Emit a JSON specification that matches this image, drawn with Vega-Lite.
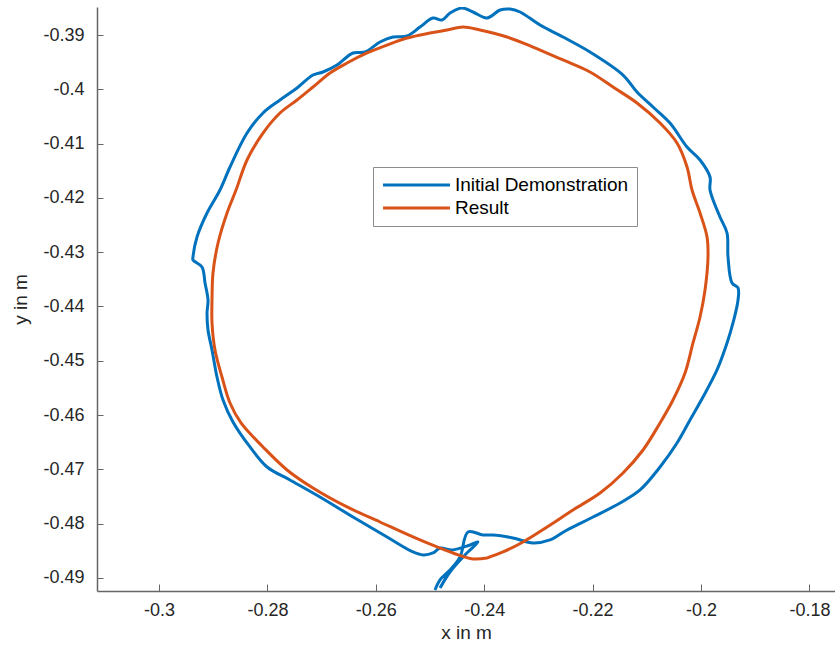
{
  "$schema": "https://vega.github.io/schema/vega-lite/v6.json",
  "width": 738,
  "height": 584,
  "autosize": {"type": "none"},
  "padding": {"left": 97, "top": 7, "right": 0, "bottom": 62},
  "background": "white",
  "config": {"view": {"stroke": null}, "font": "Liberation Sans"},
  "data": {
    "values": [
      {"series": "Initial Demonstration", "i": 1, "x": -0.24908, "y": -0.49221},
      {"series": "Initial Demonstration", "i": 2, "x": -0.24815, "y": -0.49037},
      {"series": "Initial Demonstration", "i": 3, "x": -0.24631, "y": -0.48853},
      {"series": "Initial Demonstration", "i": 4, "x": -0.24446, "y": -0.48613},
      {"series": "Initial Demonstration", "i": 5, "x": -0.24299, "y": -0.48153},
      {"series": "Initial Demonstration", "i": 6, "x": -0.24022, "y": -0.48208},
      {"series": "Initial Demonstration", "i": 7, "x": -0.23838, "y": -0.48208},
      {"series": "Initial Demonstration", "i": 8, "x": -0.23469, "y": -0.48263},
      {"series": "Initial Demonstration", "i": 9, "x": -0.231, "y": -0.48355},
      {"series": "Initial Demonstration", "i": 10, "x": -0.22786, "y": -0.483},
      {"series": "Initial Demonstration", "i": 11, "x": -0.22472, "y": -0.48116},
      {"series": "Initial Demonstration", "i": 12, "x": -0.21993, "y": -0.47877},
      {"series": "Initial Demonstration", "i": 13, "x": -0.21494, "y": -0.47619},
      {"series": "Initial Demonstration", "i": 14, "x": -0.21125, "y": -0.47379},
      {"series": "Initial Demonstration", "i": 15, "x": -0.20756, "y": -0.46956},
      {"series": "Initial Demonstration", "i": 16, "x": -0.20443, "y": -0.46514},
      {"series": "Initial Demonstration", "i": 17, "x": -0.20203, "y": -0.4609},
      {"series": "Initial Demonstration", "i": 18, "x": -0.19963, "y": -0.45667},
      {"series": "Initial Demonstration", "i": 19, "x": -0.19705, "y": -0.45169},
      {"series": "Initial Demonstration", "i": 20, "x": -0.1952, "y": -0.44672},
      {"series": "Initial Demonstration", "i": 21, "x": -0.1941, "y": -0.44304},
      {"series": "Initial Demonstration", "i": 22, "x": -0.19317, "y": -0.4388},
      {"series": "Initial Demonstration", "i": 23, "x": -0.19317, "y": -0.43659},
      {"series": "Initial Demonstration", "i": 24, "x": -0.19428, "y": -0.43567},
      {"series": "Initial Demonstration", "i": 25, "x": -0.19502, "y": -0.43088},
      {"series": "Initial Demonstration", "i": 26, "x": -0.1952, "y": -0.42646},
      {"series": "Initial Demonstration", "i": 27, "x": -0.1965, "y": -0.42352},
      {"series": "Initial Demonstration", "i": 28, "x": -0.19834, "y": -0.41855},
      {"series": "Initial Demonstration", "i": 29, "x": -0.19834, "y": -0.41615},
      {"series": "Initial Demonstration", "i": 30, "x": -0.20018, "y": -0.41302},
      {"series": "Initial Demonstration", "i": 31, "x": -0.20258, "y": -0.41063},
      {"series": "Initial Demonstration", "i": 32, "x": -0.20572, "y": -0.40621},
      {"series": "Initial Demonstration", "i": 33, "x": -0.20886, "y": -0.40326},
      {"series": "Initial Demonstration", "i": 34, "x": -0.21181, "y": -0.4005},
      {"series": "Initial Demonstration", "i": 35, "x": -0.21439, "y": -0.39737},
      {"series": "Initial Demonstration", "i": 36, "x": -0.22048, "y": -0.39313},
      {"series": "Initial Demonstration", "i": 37, "x": -0.22546, "y": -0.39037},
      {"series": "Initial Demonstration", "i": 38, "x": -0.2297, "y": -0.38816},
      {"series": "Initial Demonstration", "i": 39, "x": -0.23339, "y": -0.38576},
      {"series": "Initial Demonstration", "i": 40, "x": -0.23524, "y": -0.38521},
      {"series": "Initial Demonstration", "i": 41, "x": -0.23708, "y": -0.3854},
      {"series": "Initial Demonstration", "i": 42, "x": -0.23948, "y": -0.38687},
      {"series": "Initial Demonstration", "i": 43, "x": -0.24207, "y": -0.38576},
      {"series": "Initial Demonstration", "i": 44, "x": -0.2441, "y": -0.38503},
      {"series": "Initial Demonstration", "i": 45, "x": -0.24631, "y": -0.38595},
      {"series": "Initial Demonstration", "i": 46, "x": -0.24779, "y": -0.38724},
      {"series": "Initial Demonstration", "i": 47, "x": -0.24945, "y": -0.38687},
      {"series": "Initial Demonstration", "i": 48, "x": -0.25185, "y": -0.38853},
      {"series": "Initial Demonstration", "i": 49, "x": -0.25424, "y": -0.39018},
      {"series": "Initial Demonstration", "i": 50, "x": -0.25683, "y": -0.39037},
      {"series": "Initial Demonstration", "i": 51, "x": -0.25923, "y": -0.39129},
      {"series": "Initial Demonstration", "i": 52, "x": -0.26199, "y": -0.39313},
      {"series": "Initial Demonstration", "i": 53, "x": -0.26421, "y": -0.39331},
      {"series": "Initial Demonstration", "i": 54, "x": -0.26716, "y": -0.39552},
      {"series": "Initial Demonstration", "i": 55, "x": -0.26974, "y": -0.39681},
      {"series": "Initial Demonstration", "i": 56, "x": -0.27159, "y": -0.39737},
      {"series": "Initial Demonstration", "i": 57, "x": -0.27454, "y": -0.39976},
      {"series": "Initial Demonstration", "i": 58, "x": -0.27768, "y": -0.40197},
      {"series": "Initial Demonstration", "i": 59, "x": -0.28081, "y": -0.40436},
      {"series": "Initial Demonstration", "i": 60, "x": -0.28376, "y": -0.40805},
      {"series": "Initial Demonstration", "i": 61, "x": -0.2869, "y": -0.41431},
      {"series": "Initial Demonstration", "i": 62, "x": -0.28875, "y": -0.41855},
      {"series": "Initial Demonstration", "i": 63, "x": -0.29114, "y": -0.42278},
      {"series": "Initial Demonstration", "i": 64, "x": -0.29299, "y": -0.4272},
      {"series": "Initial Demonstration", "i": 65, "x": -0.29373, "y": -0.43088},
      {"series": "Initial Demonstration", "i": 66, "x": -0.29373, "y": -0.43144},
      {"series": "Initial Demonstration", "i": 67, "x": -0.29207, "y": -0.43273},
      {"series": "Initial Demonstration", "i": 68, "x": -0.29151, "y": -0.43567},
      {"series": "Initial Demonstration", "i": 69, "x": -0.29096, "y": -0.4388},
      {"series": "Initial Demonstration", "i": 70, "x": -0.29114, "y": -0.4412},
      {"series": "Initial Demonstration", "i": 71, "x": -0.29096, "y": -0.44433},
      {"series": "Initial Demonstration", "i": 72, "x": -0.29022, "y": -0.44801},
      {"series": "Initial Demonstration", "i": 73, "x": -0.2893, "y": -0.45298},
      {"series": "Initial Demonstration", "i": 74, "x": -0.28819, "y": -0.45722},
      {"series": "Initial Demonstration", "i": 75, "x": -0.28635, "y": -0.46127},
      {"series": "Initial Demonstration", "i": 76, "x": -0.28321, "y": -0.46587},
      {"series": "Initial Demonstration", "i": 77, "x": -0.28007, "y": -0.46956},
      {"series": "Initial Demonstration", "i": 78, "x": -0.27583, "y": -0.47195},
      {"series": "Initial Demonstration", "i": 79, "x": -0.2703, "y": -0.47508},
      {"series": "Initial Demonstration", "i": 80, "x": -0.26421, "y": -0.47877},
      {"series": "Initial Demonstration", "i": 81, "x": -0.25793, "y": -0.48245},
      {"series": "Initial Demonstration", "i": 82, "x": -0.25314, "y": -0.48521},
      {"series": "Initial Demonstration", "i": 83, "x": -0.25129, "y": -0.48576},
      {"series": "Initial Demonstration", "i": 84, "x": -0.24945, "y": -0.4854},
      {"series": "Initial Demonstration", "i": 85, "x": -0.24815, "y": -0.48448},
      {"series": "Initial Demonstration", "i": 86, "x": -0.24594, "y": -0.48484},
      {"series": "Initial Demonstration", "i": 87, "x": -0.24262, "y": -0.48392},
      {"series": "Initial Demonstration", "i": 88, "x": -0.24114, "y": -0.48337},
      {"series": "Initial Demonstration", "i": 89, "x": -0.24354, "y": -0.48576},
      {"series": "Initial Demonstration", "i": 90, "x": -0.24631, "y": -0.4889},
      {"series": "Initial Demonstration", "i": 91, "x": -0.24815, "y": -0.49184},
      {"series": "Result", "i": 1, "x": -0.23948, "y": -0.48632},
      {"series": "Result", "i": 2, "x": -0.23653, "y": -0.48521},
      {"series": "Result", "i": 3, "x": -0.23284, "y": -0.48337},
      {"series": "Result", "i": 4, "x": -0.22841, "y": -0.48061},
      {"series": "Result", "i": 5, "x": -0.22362, "y": -0.47748},
      {"series": "Result", "i": 6, "x": -0.21863, "y": -0.47435},
      {"series": "Result", "i": 7, "x": -0.21439, "y": -0.47066},
      {"series": "Result", "i": 8, "x": -0.2107, "y": -0.46643},
      {"series": "Result", "i": 9, "x": -0.20756, "y": -0.46145},
      {"series": "Result", "i": 10, "x": -0.20517, "y": -0.45722},
      {"series": "Result", "i": 11, "x": -0.20295, "y": -0.45225},
      {"series": "Result", "i": 12, "x": -0.20148, "y": -0.44672},
      {"series": "Result", "i": 13, "x": -0.20018, "y": -0.44193},
      {"series": "Result", "i": 14, "x": -0.19926, "y": -0.43696},
      {"series": "Result", "i": 15, "x": -0.19871, "y": -0.43088},
      {"series": "Result", "i": 16, "x": -0.19889, "y": -0.4272},
      {"series": "Result", "i": 17, "x": -0.20018, "y": -0.42278},
      {"series": "Result", "i": 18, "x": -0.20166, "y": -0.41855},
      {"series": "Result", "i": 19, "x": -0.20258, "y": -0.41431},
      {"series": "Result", "i": 20, "x": -0.20443, "y": -0.40989},
      {"series": "Result", "i": 21, "x": -0.20756, "y": -0.40621},
      {"series": "Result", "i": 22, "x": -0.21181, "y": -0.40252},
      {"series": "Result", "i": 23, "x": -0.21624, "y": -0.39958},
      {"series": "Result", "i": 24, "x": -0.22048, "y": -0.39681},
      {"series": "Result", "i": 25, "x": -0.22546, "y": -0.3946},
      {"series": "Result", "i": 26, "x": -0.231, "y": -0.39221},
      {"series": "Result", "i": 27, "x": -0.23579, "y": -0.39037},
      {"series": "Result", "i": 28, "x": -0.24077, "y": -0.38908},
      {"series": "Result", "i": 29, "x": -0.24391, "y": -0.38853},
      {"series": "Result", "i": 30, "x": -0.24686, "y": -0.38908},
      {"series": "Result", "i": 31, "x": -0.25, "y": -0.38963},
      {"series": "Result", "i": 32, "x": -0.25424, "y": -0.39055},
      {"series": "Result", "i": 33, "x": -0.25793, "y": -0.39184},
      {"series": "Result", "i": 34, "x": -0.26162, "y": -0.39331},
      {"series": "Result", "i": 35, "x": -0.26531, "y": -0.39516},
      {"series": "Result", "i": 36, "x": -0.26845, "y": -0.397},
      {"series": "Result", "i": 37, "x": -0.27159, "y": -0.39958},
      {"series": "Result", "i": 38, "x": -0.27454, "y": -0.40197},
      {"series": "Result", "i": 39, "x": -0.27768, "y": -0.40436},
      {"series": "Result", "i": 40, "x": -0.28081, "y": -0.40805},
      {"series": "Result", "i": 41, "x": -0.28376, "y": -0.41302},
      {"series": "Result", "i": 42, "x": -0.28579, "y": -0.41855},
      {"series": "Result", "i": 43, "x": -0.28745, "y": -0.42278},
      {"series": "Result", "i": 44, "x": -0.28911, "y": -0.42831},
      {"series": "Result", "i": 45, "x": -0.29004, "y": -0.43383},
      {"series": "Result", "i": 46, "x": -0.29022, "y": -0.4388},
      {"series": "Result", "i": 47, "x": -0.29022, "y": -0.44304},
      {"series": "Result", "i": 48, "x": -0.28967, "y": -0.44801},
      {"series": "Result", "i": 49, "x": -0.28838, "y": -0.45298},
      {"series": "Result", "i": 50, "x": -0.2869, "y": -0.45777},
      {"series": "Result", "i": 51, "x": -0.28487, "y": -0.46145},
      {"series": "Result", "i": 52, "x": -0.28081, "y": -0.46587},
      {"series": "Result", "i": 53, "x": -0.27638, "y": -0.47011},
      {"series": "Result", "i": 54, "x": -0.27159, "y": -0.47343},
      {"series": "Result", "i": 55, "x": -0.26531, "y": -0.47692},
      {"series": "Result", "i": 56, "x": -0.25923, "y": -0.47969},
      {"series": "Result", "i": 57, "x": -0.25314, "y": -0.48245},
      {"series": "Result", "i": 58, "x": -0.24871, "y": -0.48429},
      {"series": "Result", "i": 59, "x": -0.24576, "y": -0.4854},
      {"series": "Result", "i": 60, "x": -0.24207, "y": -0.4865},
      {"series": "Result", "i": 61, "x": -0.23948, "y": -0.48632}
    ]
  },
  "mark": {"type": "line", "strokeWidth": 3, "interpolate": "catmull-rom", "clip": true},
  "encoding": {
    "x": {
      "field": "x",
      "type": "quantitative",
      "scale": {"domain": [-0.31144, -0.17528], "nice": false, "zero": false},
      "axis": {
        "title": "x in m",
        "values": [-0.3, -0.28, -0.26, -0.24, -0.22, -0.2, -0.18],
        "labelExpr": "'' + datum.value",
        "grid": false,
        "tickSize": -7,
        "labelPadding": 17,
        "labelFontSize": 18,
        "labelColor": "#262626",
        "labelFlush": false,
        "domainColor": "#666666",
        "tickColor": "#666666",
        "domainWidth": 1.5,
        "titleFontSize": 19,
        "titleFontWeight": "normal",
        "titleColor": "#262626",
        "titlePadding": 4
      }
    },
    "y": {
      "field": "y",
      "type": "quantitative",
      "scale": {"domain": [-0.4924, -0.38484], "nice": false, "zero": false},
      "axis": {
        "title": "y in m",
        "values": [-0.49, -0.48, -0.47, -0.46, -0.45, -0.44, -0.43, -0.42, -0.41, -0.4, -0.39],
        "labelExpr": "'' + datum.value",
        "grid": false,
        "tickSize": -6,
        "labelPadding": 19,
        "labelFontSize": 18,
        "labelColor": "#262626",
        "domainColor": "#666666",
        "tickColor": "#666666",
        "domainWidth": 1.5,
        "titleFontSize": 19,
        "titleFontWeight": "normal",
        "titleColor": "#262626",
        "titlePadding": 12
      }
    },
    "color": {
      "field": "series",
      "type": "nominal",
      "scale": {"domain": ["Initial Demonstration", "Result"], "range": ["#0072BD", "#D95319"]},
      "legend": {
        "orient": "none",
        "legendX": 276,
        "legendY": 160,
        "title": null,
        "symbolType": "M-4,0H4",
        "symbolStrokeWidth": 3,
        "symbolSize": 280,
        "symbolOffset": 25.5,
        "labelFontSize": 19,
        "labelColor": "#000000",
        "labelOffset": 28.5,
        "labelLimit": 400,
        "strokeColor": "#8c8c8c",
        "fillColor": "white",
        "padding": 8,
        "rowPadding": 3
      }
    },
    "order": {"field": "i", "type": "quantitative"}
  }
}
